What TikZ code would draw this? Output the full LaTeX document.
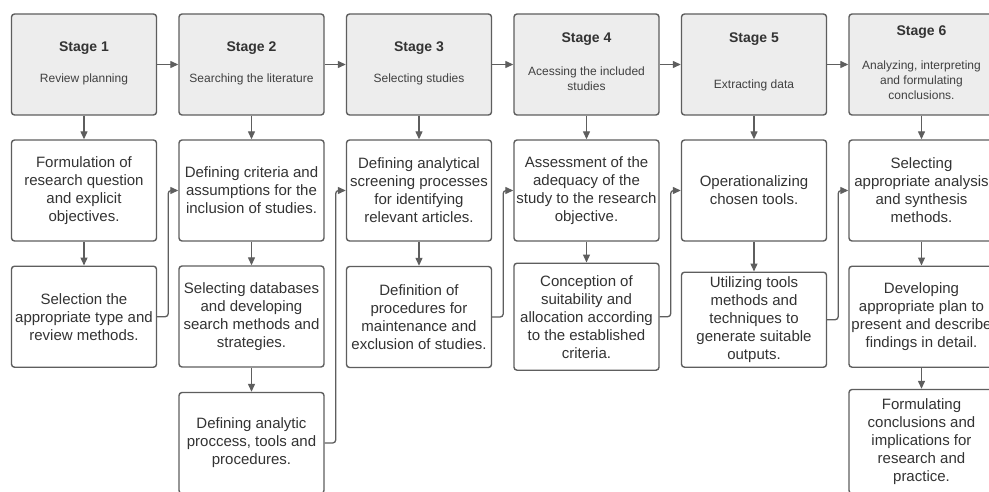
\documentclass[tikz,border=0pt]{standalone}
\usepackage{fontspec}
\setmainfont{Liberation Sans}
\usetikzlibrary{arrows.meta}
\definecolor{ln}{HTML}{5E5E5E}
\definecolor{stfill}{HTML}{EDEDED}
\definecolor{tx}{HTML}{333333}
\definecolor{tx2}{HTML}{404040}
\begin{document}
\begin{tikzpicture}[x=1pt,y=-1pt,
 box/.style={draw=ln, line width=1.4pt, rounded corners=3pt, minimum width=145pt, inner sep=0pt, align=center, text=tx, font=\fontsize{15}{18}\selectfont},
 stagebox/.style={box, fill=stfill, minimum height=101pt},
 ttl/.style={font=\fontsize{14}{17}\selectfont\bfseries, text=tx, inner sep=0pt},
 sub/.style={font=\fontsize{12}{15}\selectfont, text=tx2, align=center, inner sep=0pt},
 conn/.style={draw=ln, line width=1.3pt, -{Triangle[length=8pt,width=7pt]}},
 fb/.style={conn, rounded corners=3pt}]
\useasboundingbox (0,0) rectangle (989,492);
\clip (0,0) rectangle (989,492);
\fill[white] (0,0) rectangle (989,492);

% stage boxes
\node[stagebox] (s1) at (84,64.5) {};
\node[stagebox] (s2) at (251.5,64.5) {};
\node[stagebox] (s3) at (419,64.5) {};
\node[stagebox] (s4) at (586.5,64.5) {};
\node[stagebox] (s5) at (754,64.5) {};
\node[stagebox] (s6) at (921.5,64.5) {};

\node[ttl] (t1) at (84,48.5) {Stage 1};
\node[sub] (u1) at (84,79.5) {Review planning};
\node[ttl] (t2) at (251.5,48.5) {Stage 2};
\node[sub] (u2) at (251.5,79.5) {Searching the literature};
\node[ttl] (t3) at (419,48.5) {Stage 3};
\node[sub] (u3) at (419,79.5) {Selecting studies};
\node[ttl] (t4) at (586.5,39) {Stage 4};
\node[sub] (u4) at (586.5,78.5) {Acessing the included\\studies};
\node[ttl] (t5) at (754,39.3) {Stage 5};
\node[sub] (u5) at (754,85.7) {Extracting data};
\node[ttl] (t6) at (921.5,32.3) {Stage 6};
\node[sub] (u6) at (921.5,80) {Analyzing, interpreting\\and formulating\\conclusions.};

% detail boxes
\node[box, minimum height=101pt] (d11) at (84,190.5) {Formulation of\\research question\\and explicit\\objectives.};
\node[box, minimum height=101pt] (d12) at (84,316.7) {Selection the\\appropriate type and\\review methods.};
\node[box, minimum height=101pt] (d21) at (251.5,190.5) {Defining criteria and\\assumptions for the\\inclusion of studies.};
\node[box, minimum height=101pt] (d22) at (251.5,316.5) {Selecting databases\\and developing\\search methods and\\strategies.};
\node[box, minimum height=101pt] (d23) at (251.5,443) {Defining analytic\\proccess, tools and\\procedures.};
\node[box, minimum height=101pt] (d31) at (419,190.5) {Defining analytical\\screening processes\\for identifying\\relevant articles.};
\node[box, minimum height=101pt] (d32) at (419,317) {Definition of\\procedures for\\maintenance and\\exclusion of studies.};
\node[box, minimum height=101pt] (d41) at (586.5,190.5) {Assessment of the\\adequacy of the\\study to the research\\objective.};
\node[box, minimum height=107pt] (d42) at (586.5,316.7) {Conception of\\suitability and\\allocation according\\to the established\\criteria.};
\node[box, minimum height=101pt] (d51) at (754,190.5) {Operationalizing\\chosen tools.};
\node[box, minimum height=95pt] (d52) at (754,319.7) {Utilizing tools\\methods and\\techniques to\\generate suitable\\outputs.};
\node[box, minimum height=101pt] (d61) at (921.5,190.5) {Selecting\\appropriate analysis\\and synthesis\\methods.};
\node[box, minimum height=101pt] (d62) at (921.5,316.7) {Developing\\appropriate plan to\\present and describe\\findings in detail.};
\node[box, minimum height=104pt] (d63) at (921.5,441.5) {Formulating\\conclusions and\\implications for\\research and\\practice.};

% stage to stage
\draw[conn] (s1) -- (s2);
\draw[conn] (s2) -- (s3);
\draw[conn] (s3) -- (s4);
\draw[conn] (s4) -- (s5);
\draw[conn] (s5) -- (s6);

% vertical
\draw[conn] (s1) -- (d11);
\draw[conn] (d11) -- (d12);
\draw[conn] (s2) -- (d21);
\draw[conn] (d21) -- (d22);
\draw[conn] (d22) -- (d23);
\draw[conn] (s3) -- (d31);
\draw[conn] (d31) -- (d32);
\draw[conn] (s4) -- (d41);
\draw[conn] (d41) -- (d42);
\draw[conn] (s5) -- (d51);
\draw[conn] (d51) -- (d52);
\draw[conn] (s6) -- (d61);
\draw[conn] (d61) -- (d62);
\draw[conn] (d62) -- (d63);

% feedback connectors
\draw[fb] (d12.east) -- ++(11,0) |- (d21.west);
\draw[fb] (d23.east) -- ++(11,0) |- (d31.west);
\draw[fb] (d32.east) -- ++(11,0) |- (d41.west);
\draw[fb] (d42.east) -- ++(11,0) |- (d51.west);
\draw[fb] (d52.east) -- ++(11,0) |- (d61.west);
\end{tikzpicture}
\end{document}
